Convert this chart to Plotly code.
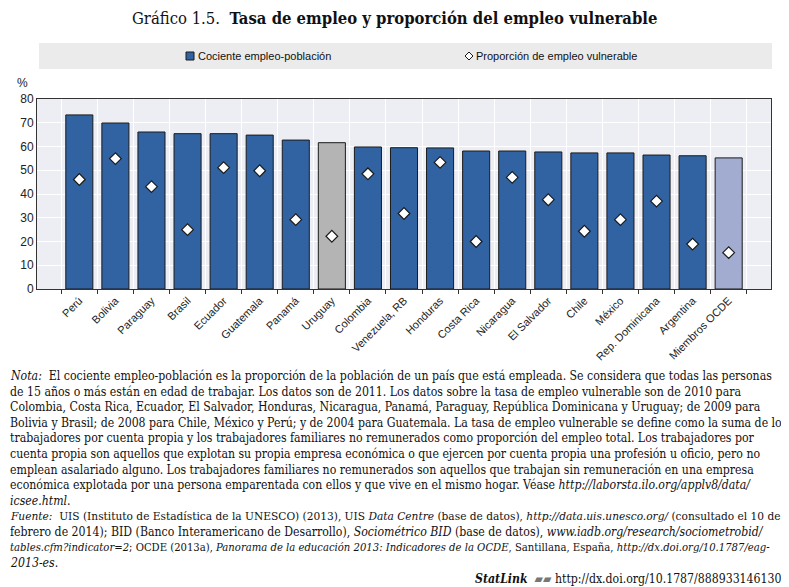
import plotly.graph_objects as go

categories = ["Perú", "Bolivia", "Paraguay", "Brasil", "Ecuador", "Guatemala", "Panamá",
              "Uruguay", "Colombia", "Venezuela, RB", "Honduras", "Costa Rica", "Nicaragua",
              "El Salvador", "Chile", "México", "Rep. Dominicana", "Argentina", "Miembros OCDE"]
employment_ratio = [73.3, 69.9, 66.1, 65.4, 65.4, 64.8, 62.7, 61.6, 59.8, 59.5, 59.4,
                    58.1, 58.1, 57.7, 57.3, 57.3, 56.4, 56.1, 55.2]
vulnerable_share = [46.1, 54.9, 43.1, 25.0, 51.1, 49.8, 29.2, 22.2, 48.5, 31.8, 53.3,
                    20.0, 47.0, 37.6, 24.3, 29.2, 37.0, 18.9, 15.3]
y_ticks = [0, 10, 20, 30, 40, 50, 60, 70, 80]

OFF = 8  # page body margin
W, H = 789 - OFF, 587 - OFF
L, R, T, B = 37 - OFF, 771 - OFF, 99 - OFF, 289 - OFF  # plot area in figure pixels


def px_x(x):  # x in screenshot pixels -> paper
    return (x - OFF - L) / (R - L)


def px_y(y):
    return (B - (y - OFF)) / (B - T)


BLUE = "#3163A3"
bar_colors = []
for c in categories:
    if c == "Uruguay":
        bar_colors.append("#B4B4B4")
    elif c == "Miembros OCDE":
        bar_colors.append("#A2ABD0")
    else:
        bar_colors.append(BLUE)

fig = go.Figure()
fig.add_trace(go.Bar(
    x=categories, y=employment_ratio, name="Cociente empleo-población",
    marker=dict(color=bar_colors, line=dict(color="#1a1a1a", width=1)),
    width=0.75, showlegend=False,
))
fig.add_trace(go.Scatter(
    x=categories, y=vulnerable_share, mode="markers", name="Proporción de empleo vulnerable",
    marker=dict(symbol="diamond", size=9, color="white", line=dict(color="#1a1a1a", width=1.2)),
    showlegend=False,
))

notes = [
    "<i>Nota:</i>  El cociente empleo-población es la proporción de la población de un país que está empleada. Se considera que todas las personas",
    "de 15 años o más están en edad de trabajar. Los datos son de 2011. Los datos sobre la tasa de empleo vulnerable son de 2010 para",
    "Colombia, Costa Rica, Ecuador, El Salvador, Honduras, Nicaragua, Panamá, Paraguay, República Dominicana y Uruguay; de 2009 para",
    "Bolivia y Brasil; de 2008 para Chile, México y Perú; y de 2004 para Guatemala. La tasa de empleo vulnerable se define como la suma de los",
    "trabajadores por cuenta propia y los trabajadores familiares no remunerados como proporción del empleo total. Los trabajadores por",
    "cuenta propia son aquellos que explotan su propia empresa económica o que ejercen por cuenta propia una profesión u oficio, pero no",
    "emplean asalariado alguno. Los trabajadores familiares no remunerados son aquellos que trabajan sin remuneración en una empresa",
    "económica explotada por una persona emparentada con ellos y que vive en el mismo hogar. Véase <i>http://laborsta.ilo.org/applv8/data/</i>",
    "<i>icsee.html</i>.",
    "<i>Fuente:</i>  UIS (Instituto de Estadística de la UNESCO) (2013), UIS <i>Data Centre</i> (base de datos), <i>http://data.uis.unesco.org/</i> (consultado el 10 de",
    "febrero de 2014); BID (Banco Interamericano de Desarrollo), <i>Sociométrico BID</i> (base de datos), <i>www.iadb.org/research/sociometrobid/</i>",
    "<i>tables.cfm?indicator=2</i>; OCDE (2013a), <i>Panorama de la educación 2013: Indicadores de la OCDE</i>, Santillana, España, <i>http://dx.doi.org/10.1787/eag-</i>",
    "<i>2013-es</i>.",
]
note_sizes = [12.2, 12.2, 12.2, 12.2, 12.2, 12.2, 12.2, 12.2, 12.2, 11.8, 12.2, 11.2, 12.2]

NOTE_FONT = "DejaVu Serif Condensed, Liberation Serif, serif"
annotations = []
annotations.append(dict(
    text="Gráfico 1.5.  <b>Tasa de empleo y proporción del empleo vulnerable</b>",
    x=px_x(394), y=px_y(18), xref="paper", yref="paper", showarrow=False,
    xanchor="center", yanchor="middle",
    font=dict(family="DejaVu Serif Condensed, DejaVu Serif", size=16.5, color="#111"),
))
annotations.append(dict(
    text="%", x=px_x(22), y=px_y(83), xref="paper", yref="paper", showarrow=False,
    xanchor="center", yanchor="middle",
    font=dict(family="Liberation Sans", size=12, color="#222"),
))
# legend (drawn manually)
annotations.append(dict(
    text="Cociente empleo-población", x=px_x(196), y=px_y(56), xref="paper", yref="paper",
    showarrow=False, xanchor="left", yanchor="middle",
    font=dict(family="Liberation Sans Narrow, Liberation Sans", size=11, color="#111"),
))
annotations.append(dict(
    text="Proporción de empleo vulnerable", x=px_x(474), y=px_y(56), xref="paper", yref="paper",
    showarrow=False, xanchor="left", yanchor="middle",
    font=dict(family="Liberation Sans Narrow, Liberation Sans", size=11, color="#111"),
))
y0 = 376
step = 15.6
for i, line in enumerate(notes):
    annotations.append(dict(
        text=line, x=-L / (R - L), y=px_y(y0 + i * step), xref="paper", yref="paper",
        showarrow=False, xanchor="left", yanchor="middle", align="left",
        font=dict(family=NOTE_FONT, size=note_sizes[i], color="#111"),
    ))
annotations.append(dict(
    text="<i><b>StatLink</b></i>  <span style='color:#777'>▰▰</span> http://dx.doi.org/10.1787/888933146130",
    x=px_x(783), y=px_y(579), xref="paper", yref="paper", showarrow=False,
    xanchor="right", yanchor="middle",
    font=dict(family=NOTE_FONT, size=12.2, color="#111"),
))

shapes = [
    dict(type="rect", xref="paper", yref="paper",
         x0=px_x(39), x1=px_x(772), y0=px_y(69), y1=px_y(43),
         fillcolor="#EBEBEB", line=dict(width=0), layer="below"),
    dict(type="rect", xref="paper", yref="paper",
         x0=px_x(186), x1=px_x(194), y0=px_y(60), y1=px_y(52),
         fillcolor=BLUE, line=dict(color="#1a1a1a", width=1)),
    dict(type="path", xref="paper", yref="paper",
         path="M {a},{m} L {c},{t} L {b},{m} L {c},{bo} Z".format(
             a=px_x(465), b=px_x(473), c=px_x(469), m=px_y(56), t=px_y(52), bo=px_y(60)),
         fillcolor="white", line=dict(color="#1a1a1a", width=1)),
]

fig.update_layout(
    width=W, height=H,
    margin=dict(l=L, r=W - R, t=T, b=H - B, pad=0),
    paper_bgcolor="white", plot_bgcolor="#EDEDF4",
    bargap=0.25,
    showlegend=False,
    annotations=annotations,
    shapes=shapes,
)
fig.update_xaxes(
    type="category", tickangle=-45, tickson="boundaries", ticks="outside", ticklen=4,
    tickcolor="#333", showgrid=True, gridcolor="white", gridwidth=1,
    showline=True, linecolor="#333", linewidth=1, mirror=True,
    tickfont=dict(family="Liberation Sans", size=11, color="#222"),
)
fig.update_yaxes(
    range=[0, 80], tickvals=y_ticks, showgrid=True, gridcolor="white", gridwidth=1,
    showline=True, linecolor="#333", linewidth=1, mirror=True, ticks="",
    tickfont=dict(family="Liberation Sans", size=12, color="#222"), zeroline=False,
)

fig.write_html("out.html")
